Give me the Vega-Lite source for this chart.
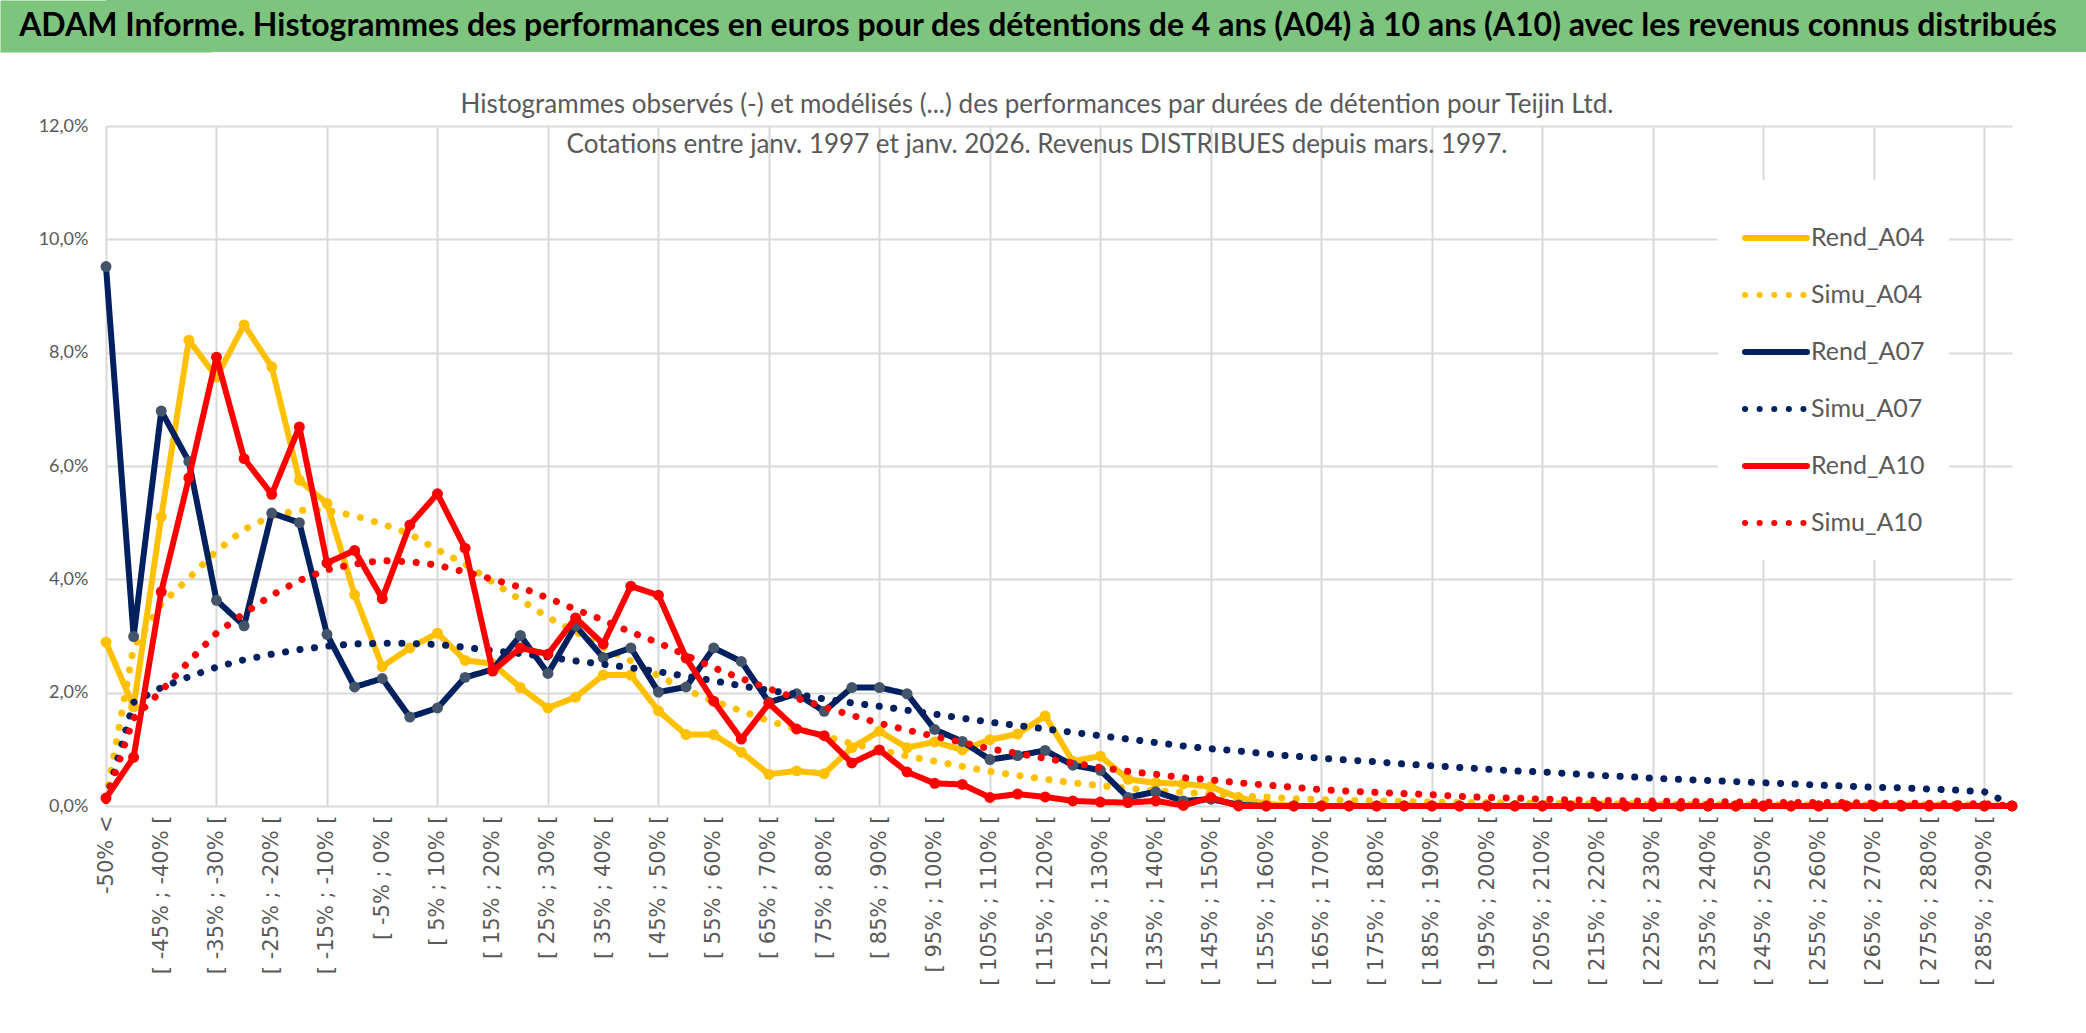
{
  "$schema": "https://vega.github.io/schema/vega-lite/v6.json",
  "padding": 0,
  "background": "white",
  "spacing": 40,
  "resolve": {"scale": {"color": "independent", "strokeDash": "independent"}, "legend": {"color": "independent", "strokeDash": "independent"}},
  "config": {"font": "Lato", "view": {"stroke": null}},
  "vconcat": [
    {
      "width": 1980,
      "height": 52,
      "view": {"fill": "#7DC57E", "stroke": null},
      "data": {"values": [{"t": "ADAM Informe. Histogrammes des performances en euros pour des détentions de 4 ans (A04) à 10 ans (A10) avec les revenus connus distribués"}]},
      "mark": {"type": "text", "font": "Lato", "fontWeight": "bold", "fontSize": 32, "color": "#000000", "align": "center", "baseline": "middle", "dx": -58},
      "encoding": {
        "text": {"field": "t"},
        "x": {"datum": 0.5, "type": "quantitative", "scale": {"domain": [0, 1]}, "axis": null},
        "y": {"datum": 0.5, "type": "quantitative", "scale": {"domain": [0, 1]},
          "axis": {"title": null, "labels": false, "ticks": false, "grid": false, "domain": true, "domainColor": "#7DC57E", "domainWidth": 212, "offset": 0, "minExtent": 106, "maxExtent": 106}}
      }
    },
    {
      "width": 1906,
      "height": 680,
      "data": {"values": [
        {"c": "-50% <", "Rend_A04": 2.89, "Simu_A04": 0.12, "Rend_A07": 9.52, "Simu_A07": 0.10, "Rend_A10": 0.14, "Simu_A10": 0.10},
        {"c": "[ -50% ; -45% [", "Rend_A04": 1.75, "Simu_A04": 2.80, "Rend_A07": 2.99, "Simu_A07": 1.83, "Rend_A10": 0.86, "Simu_A10": 1.55},
        {"c": "[ -45% ; -40% [", "Rend_A04": 5.10, "Simu_A04": 3.56, "Rend_A07": 6.97, "Simu_A07": 2.09, "Rend_A10": 3.78, "Simu_A10": 2.03},
        {"c": "[ -40% ; -35% [", "Rend_A04": 8.22, "Simu_A04": 4.02, "Rend_A07": 6.08, "Simu_A07": 2.28, "Rend_A10": 5.79, "Simu_A10": 2.55},
        {"c": "[ -35% ; -30% [", "Rend_A04": 7.57, "Simu_A04": 4.50, "Rend_A07": 3.63, "Simu_A07": 2.45, "Rend_A10": 7.92, "Simu_A10": 3.05},
        {"c": "[ -30% ; -25% [", "Rend_A04": 8.49, "Simu_A04": 4.88, "Rend_A07": 3.18, "Simu_A07": 2.58, "Rend_A10": 6.13, "Simu_A10": 3.40},
        {"c": "[ -25% ; -20% [", "Rend_A04": 7.75, "Simu_A04": 5.12, "Rend_A07": 5.17, "Simu_A07": 2.68, "Rend_A10": 5.50, "Simu_A10": 3.72},
        {"c": "[ -20% ; -15% [", "Rend_A04": 5.75, "Simu_A04": 5.22, "Rend_A07": 5.00, "Simu_A07": 2.76, "Rend_A10": 6.69, "Simu_A10": 3.98},
        {"c": "[ -15% ; -10% [", "Rend_A04": 5.34, "Simu_A04": 5.22, "Rend_A07": 3.03, "Simu_A07": 2.82, "Rend_A10": 4.29, "Simu_A10": 4.17},
        {"c": "[ -10% ; -5% [", "Rend_A04": 3.73, "Simu_A04": 5.12, "Rend_A07": 2.10, "Simu_A07": 2.86, "Rend_A10": 4.51, "Simu_A10": 4.27},
        {"c": "[ -5% ; 0% [", "Rend_A04": 2.46, "Simu_A04": 4.98, "Rend_A07": 2.25, "Simu_A07": 2.87, "Rend_A10": 3.66, "Simu_A10": 4.33},
        {"c": "[ 0% ; 5% [", "Rend_A04": 2.79, "Simu_A04": 4.80, "Rend_A07": 1.57, "Simu_A07": 2.87, "Rend_A10": 4.96, "Simu_A10": 4.31},
        {"c": "[ 5% ; 10% [", "Rend_A04": 3.05, "Simu_A04": 4.52, "Rend_A07": 1.73, "Simu_A07": 2.85, "Rend_A10": 5.51, "Simu_A10": 4.25},
        {"c": "[ 10% ; 15% [", "Rend_A04": 2.57, "Simu_A04": 4.27, "Rend_A07": 2.27, "Simu_A07": 2.80, "Rend_A10": 4.55, "Simu_A10": 4.13},
        {"c": "[ 15% ; 20% [", "Rend_A04": 2.51, "Simu_A04": 3.95, "Rend_A07": 2.41, "Simu_A07": 2.74, "Rend_A10": 2.38, "Simu_A10": 4.00},
        {"c": "[ 20% ; 25% [", "Rend_A04": 2.09, "Simu_A04": 3.64, "Rend_A07": 3.01, "Simu_A07": 2.69, "Rend_A10": 2.79, "Simu_A10": 3.86},
        {"c": "[ 25% ; 30% [", "Rend_A04": 1.73, "Simu_A04": 3.33, "Rend_A07": 2.34, "Simu_A07": 2.63, "Rend_A10": 2.68, "Simu_A10": 3.67},
        {"c": "[ 30% ; 35% [", "Rend_A04": 1.92, "Simu_A04": 3.07, "Rend_A07": 3.18, "Simu_A07": 2.56, "Rend_A10": 3.32, "Simu_A10": 3.47},
        {"c": "[ 35% ; 40% [", "Rend_A04": 2.31, "Simu_A04": 2.80, "Rend_A07": 2.62, "Simu_A07": 2.50, "Rend_A10": 2.86, "Simu_A10": 3.28},
        {"c": "[ 40% ; 45% [", "Rend_A04": 2.31, "Simu_A04": 2.56, "Rend_A07": 2.79, "Simu_A07": 2.44, "Rend_A10": 3.88, "Simu_A10": 3.07},
        {"c": "[ 45% ; 50% [", "Rend_A04": 1.68, "Simu_A04": 2.30, "Rend_A07": 2.01, "Simu_A07": 2.37, "Rend_A10": 3.72, "Simu_A10": 2.88},
        {"c": "[ 50% ; 55% [", "Rend_A04": 1.26, "Simu_A04": 2.05, "Rend_A07": 2.10, "Simu_A07": 2.29, "Rend_A10": 2.61, "Simu_A10": 2.66},
        {"c": "[ 55% ; 60% [", "Rend_A04": 1.26, "Simu_A04": 1.85, "Rend_A07": 2.79, "Simu_A07": 2.21, "Rend_A10": 1.85, "Simu_A10": 2.44},
        {"c": "[ 60% ; 65% [", "Rend_A04": 0.95, "Simu_A04": 1.68, "Rend_A07": 2.55, "Simu_A07": 2.12, "Rend_A10": 1.18, "Simu_A10": 2.25},
        {"c": "[ 65% ; 70% [", "Rend_A04": 0.56, "Simu_A04": 1.50, "Rend_A07": 1.83, "Simu_A07": 2.04, "Rend_A10": 1.81, "Simu_A10": 2.07},
        {"c": "[ 70% ; 75% [", "Rend_A04": 0.62, "Simu_A04": 1.36, "Rend_A07": 1.98, "Simu_A07": 1.97, "Rend_A10": 1.36, "Simu_A10": 1.90},
        {"c": "[ 75% ; 80% [", "Rend_A04": 0.57, "Simu_A04": 1.24, "Rend_A07": 1.67, "Simu_A07": 1.89, "Rend_A10": 1.24, "Simu_A10": 1.75},
        {"c": "[ 80% ; 85% [", "Rend_A04": 1.03, "Simu_A04": 1.10, "Rend_A07": 2.09, "Simu_A07": 1.82, "Rend_A10": 0.76, "Simu_A10": 1.60},
        {"c": "[ 85% ; 90% [", "Rend_A04": 1.32, "Simu_A04": 0.99, "Rend_A07": 2.09, "Simu_A07": 1.76, "Rend_A10": 0.99, "Simu_A10": 1.46},
        {"c": "[ 90% ; 95% [", "Rend_A04": 1.03, "Simu_A04": 0.88, "Rend_A07": 1.98, "Simu_A07": 1.69, "Rend_A10": 0.60, "Simu_A10": 1.34},
        {"c": "[ 95% ; 100% [", "Rend_A04": 1.13, "Simu_A04": 0.79, "Rend_A07": 1.35, "Simu_A07": 1.62, "Rend_A10": 0.40, "Simu_A10": 1.23},
        {"c": "[ 100% ; 105% [", "Rend_A04": 0.99, "Simu_A04": 0.70, "Rend_A07": 1.14, "Simu_A07": 1.55, "Rend_A10": 0.38, "Simu_A10": 1.12},
        {"c": "[ 105% ; 110% [", "Rend_A04": 1.17, "Simu_A04": 0.61, "Rend_A07": 0.82, "Simu_A07": 1.48, "Rend_A10": 0.15, "Simu_A10": 1.01},
        {"c": "[ 110% ; 115% [", "Rend_A04": 1.27, "Simu_A04": 0.54, "Rend_A07": 0.89, "Simu_A07": 1.42, "Rend_A10": 0.21, "Simu_A10": 0.93},
        {"c": "[ 115% ; 120% [", "Rend_A04": 1.59, "Simu_A04": 0.47, "Rend_A07": 0.98, "Simu_A07": 1.36, "Rend_A10": 0.16, "Simu_A10": 0.84},
        {"c": "[ 120% ; 125% [", "Rend_A04": 0.79, "Simu_A04": 0.41, "Rend_A07": 0.72, "Simu_A07": 1.30, "Rend_A10": 0.09, "Simu_A10": 0.76},
        {"c": "[ 125% ; 130% [", "Rend_A04": 0.88, "Simu_A04": 0.36, "Rend_A07": 0.63, "Simu_A07": 1.24, "Rend_A10": 0.07, "Simu_A10": 0.68},
        {"c": "[ 130% ; 135% [", "Rend_A04": 0.47, "Simu_A04": 0.31, "Rend_A07": 0.15, "Simu_A07": 1.18, "Rend_A10": 0.06, "Simu_A10": 0.61},
        {"c": "[ 135% ; 140% [", "Rend_A04": 0.41, "Simu_A04": 0.27, "Rend_A07": 0.25, "Simu_A07": 1.12, "Rend_A10": 0.09, "Simu_A10": 0.56},
        {"c": "[ 140% ; 145% [", "Rend_A04": 0.39, "Simu_A04": 0.24, "Rend_A07": 0.09, "Simu_A07": 1.06, "Rend_A10": 0.01, "Simu_A10": 0.50},
        {"c": "[ 145% ; 150% [", "Rend_A04": 0.34, "Simu_A04": 0.21, "Rend_A07": 0.12, "Simu_A07": 1.01, "Rend_A10": 0.15, "Simu_A10": 0.46},
        {"c": "[ 150% ; 155% [", "Rend_A04": 0.15, "Simu_A04": 0.18, "Rend_A07": 0.02, "Simu_A07": 0.97, "Rend_A10": 0.00, "Simu_A10": 0.41},
        {"c": "[ 155% ; 160% [", "Rend_A04": 0.04, "Simu_A04": 0.16, "Rend_A07": 0.00, "Simu_A07": 0.92, "Rend_A10": 0.00, "Simu_A10": 0.37},
        {"c": "[ 160% ; 165% [", "Rend_A04": 0, "Simu_A04": 0.13, "Rend_A07": 0, "Simu_A07": 0.88, "Rend_A10": 0, "Simu_A10": 0.33},
        {"c": "[ 165% ; 170% [", "Rend_A04": 0, "Simu_A04": 0.11, "Rend_A07": 0, "Simu_A07": 0.84, "Rend_A10": 0, "Simu_A10": 0.29},
        {"c": "[ 170% ; 175% [", "Rend_A04": 0, "Simu_A04": 0.10, "Rend_A07": 0, "Simu_A07": 0.81, "Rend_A10": 0, "Simu_A10": 0.26},
        {"c": "[ 175% ; 180% [", "Rend_A04": 0, "Simu_A04": 0.09, "Rend_A07": 0, "Simu_A07": 0.78, "Rend_A10": 0, "Simu_A10": 0.24},
        {"c": "[ 180% ; 185% [", "Rend_A04": 0, "Simu_A04": 0.08, "Rend_A07": 0, "Simu_A07": 0.74, "Rend_A10": 0, "Simu_A10": 0.22},
        {"c": "[ 185% ; 190% [", "Rend_A04": 0, "Simu_A04": 0.07, "Rend_A07": 0, "Simu_A07": 0.71, "Rend_A10": 0, "Simu_A10": 0.20},
        {"c": "[ 190% ; 195% [", "Rend_A04": 0, "Simu_A04": 0.06, "Rend_A07": 0, "Simu_A07": 0.68, "Rend_A10": 0, "Simu_A10": 0.17},
        {"c": "[ 195% ; 200% [", "Rend_A04": 0, "Simu_A04": 0.06, "Rend_A07": 0, "Simu_A07": 0.65, "Rend_A10": 0, "Simu_A10": 0.15},
        {"c": "[ 200% ; 205% [", "Rend_A04": 0, "Simu_A04": 0.05, "Rend_A07": 0, "Simu_A07": 0.62, "Rend_A10": 0, "Simu_A10": 0.14},
        {"c": "[ 205% ; 210% [", "Rend_A04": 0, "Simu_A04": 0.05, "Rend_A07": 0, "Simu_A07": 0.60, "Rend_A10": 0, "Simu_A10": 0.12},
        {"c": "[ 210% ; 215% [", "Rend_A04": 0, "Simu_A04": 0.04, "Rend_A07": 0, "Simu_A07": 0.57, "Rend_A10": 0, "Simu_A10": 0.11},
        {"c": "[ 215% ; 220% [", "Rend_A04": 0, "Simu_A04": 0.04, "Rend_A07": 0, "Simu_A07": 0.54, "Rend_A10": 0, "Simu_A10": 0.10},
        {"c": "[ 220% ; 225% [", "Rend_A04": 0, "Simu_A04": 0.04, "Rend_A07": 0, "Simu_A07": 0.52, "Rend_A10": 0, "Simu_A10": 0.09},
        {"c": "[ 225% ; 230% [", "Rend_A04": 0, "Simu_A04": 0.03, "Rend_A07": 0, "Simu_A07": 0.49, "Rend_A10": 0, "Simu_A10": 0.09},
        {"c": "[ 230% ; 235% [", "Rend_A04": 0, "Simu_A04": 0.03, "Rend_A07": 0, "Simu_A07": 0.47, "Rend_A10": 0, "Simu_A10": 0.08},
        {"c": "[ 235% ; 240% [", "Rend_A04": 0, "Simu_A04": 0.03, "Rend_A07": 0, "Simu_A07": 0.45, "Rend_A10": 0, "Simu_A10": 0.08},
        {"c": "[ 240% ; 245% [", "Rend_A04": 0, "Simu_A04": 0.03, "Rend_A07": 0, "Simu_A07": 0.43, "Rend_A10": 0, "Simu_A10": 0.07},
        {"c": "[ 245% ; 250% [", "Rend_A04": 0, "Simu_A04": 0.02, "Rend_A07": 0, "Simu_A07": 0.41, "Rend_A10": 0, "Simu_A10": 0.07},
        {"c": "[ 250% ; 255% [", "Rend_A04": 0, "Simu_A04": 0.02, "Rend_A07": 0, "Simu_A07": 0.39, "Rend_A10": 0, "Simu_A10": 0.06},
        {"c": "[ 255% ; 260% [", "Rend_A04": 0, "Simu_A04": 0.02, "Rend_A07": 0, "Simu_A07": 0.37, "Rend_A10": 0, "Simu_A10": 0.06},
        {"c": "[ 260% ; 265% [", "Rend_A04": 0, "Simu_A04": 0.02, "Rend_A07": 0, "Simu_A07": 0.35, "Rend_A10": 0, "Simu_A10": 0.06},
        {"c": "[ 265% ; 270% [", "Rend_A04": 0, "Simu_A04": 0.02, "Rend_A07": 0, "Simu_A07": 0.33, "Rend_A10": 0, "Simu_A10": 0.05},
        {"c": "[ 270% ; 275% [", "Rend_A04": 0, "Simu_A04": 0.02, "Rend_A07": 0, "Simu_A07": 0.32, "Rend_A10": 0, "Simu_A10": 0.05},
        {"c": "[ 275% ; 280% [", "Rend_A04": 0, "Simu_A04": 0.02, "Rend_A07": 0, "Simu_A07": 0.30, "Rend_A10": 0, "Simu_A10": 0.05},
        {"c": "[ 280% ; 285% [", "Rend_A04": 0, "Simu_A04": 0.02, "Rend_A07": 0, "Simu_A07": 0.28, "Rend_A10": 0, "Simu_A10": 0.04},
        {"c": "[ 285% ; 290% [", "Rend_A04": 0, "Simu_A04": 0.02, "Rend_A07": 0, "Simu_A07": 0.25, "Rend_A10": 0, "Simu_A10": 0.04},
        {"c": "[ 290% ; 295% [", "Rend_A04": 0, "Simu_A04": 0.00, "Rend_A07": 0, "Simu_A07": 0.02, "Rend_A10": 0, "Simu_A10": 0.00}
      ]},
      "transform": [
        {"fold": ["Rend_A04", "Simu_A04", "Rend_A07", "Simu_A07", "Rend_A10", "Simu_A10"], "as": ["series", "value"]}
      ],
      "title": {
        "text": [
          "Histogrammes observés (-) et modélisés (...) des performances par durées de détention pour Teijin Ltd.",
          "Cotations entre janv. 1997 et janv. 2026. Revenus DISTRIBUES depuis mars. 1997."
        ],
        "fontSize": 26, "lineHeight": 40, "fontWeight": "normal", "font": "Lato", "color": "#595959",
        "anchor": "middle", "frame": "group", "offset": -41, "dx": -22
      },
      "encoding": {
        "x": {
          "field": "c", "type": "ordinal", "sort": null,
          "scale": {"type": "point", "padding": 0},
          "axis": {
            "title": null,
            "values": ["-50% <", "[ -45% ; -40% [", "[ -35% ; -30% [", "[ -25% ; -20% [", "[ -15% ; -10% [", "[ -5% ; 0% [", "[ 5% ; 10% [", "[ 15% ; 20% [", "[ 25% ; 30% [", "[ 35% ; 40% [", "[ 45% ; 50% [", "[ 55% ; 60% [", "[ 65% ; 70% [", "[ 75% ; 80% [", "[ 85% ; 90% [", "[ 95% ; 100% [", "[ 105% ; 110% [", "[ 115% ; 120% [", "[ 125% ; 130% [", "[ 135% ; 140% [", "[ 145% ; 150% [", "[ 155% ; 160% [", "[ 165% ; 170% [", "[ 175% ; 180% [", "[ 185% ; 190% [", "[ 195% ; 200% [", "[ 205% ; 210% [", "[ 215% ; 220% [", "[ 225% ; 230% [", "[ 235% ; 240% [", "[ 245% ; 250% [", "[ 255% ; 260% [", "[ 265% ; 270% [", "[ 275% ; 280% [", "[ 285% ; 290% ["],
            "labelAngle": -90, "labelFont": "DejaVu Sans", "labelFontSize": 21, "labelColor": "#595959",
            "labelPadding": 9, "labelOverlap": false, "labelBound": false,
            "domain": false, "ticks": false,
            "grid": true, "gridColor": "#D9D9D9", "gridWidth": 2,
            "gridOpacity": {
              "condition": {"test": "indexof(['-50% <', '[ -35% ; -30% [', '[ -15% ; -10% [', '[ 5% ; 10% [', '[ 25% ; 30% [', '[ 45% ; 50% [', '[ 65% ; 70% [', '[ 85% ; 90% [', '[ 105% ; 110% [', '[ 125% ; 130% [', '[ 145% ; 150% [', '[ 165% ; 170% [', '[ 185% ; 190% [', '[ 205% ; 210% [', '[ 225% ; 230% [', '[ 245% ; 250% [', '[ 265% ; 270% [', '[ 285% ; 290% ['], datum.value) >= 0", "value": 1},
              "value": 0
            }
          }
        },
        "y": {
          "field": "value", "type": "quantitative",
          "scale": {"domain": [0, 12]},
          "axis": {
            "title": null, "values": [0, 2, 4, 6, 8, 10, 12],
            "labelExpr": "replace(format(datum.value, '.1f'), '.', ',') + '%'",
            "labelFont": "Lato", "labelFontSize": 18, "labelColor": "#595959", "labelPadding": 18,
            "domain": false, "ticks": false,
            "grid": true, "gridColor": "#D9D9D9", "gridWidth": 2,
            "minExtent": 106, "maxExtent": 106
          }
        },
        "color": {
          "field": "series", "type": "nominal",
          "scale": {
            "domain": ["Rend_A04", "Simu_A04", "Rend_A07", "Simu_A07", "Rend_A10", "Simu_A10"],
            "range": ["#FFC000", "#FFC000", "#002060", "#002060", "#FF0000", "#FF0000"]
          },
          "legend": {
            "title": null, "orient": "none", "legendX": 1612, "legendY": 54,
            "symbolType": "stroke", "symbolSize": 3844, "symbolStrokeWidth": 6,
            "labelFont": "Lato", "labelFontSize": 25, "labelColor": "#595959", "labelOffset": 1,
            "rowPadding": 10, "fillColor": "white", "padding": 24,
            "encode": {"symbols": {"update": {"strokeCap": {"value": "round"}}}}
          }
        },
        "strokeDash": {
          "field": "series", "type": "nominal",
          "scale": {
            "domain": ["Rend_A04", "Simu_A04", "Rend_A07", "Simu_A07", "Rend_A10", "Simu_A10"],
            "range": [[1, 0], [0.1, 14.5], [1, 0], [0.1, 14.5], [1, 0], [0.1, 14.5]]
          },
          "legend": {
            "title": null, "orient": "none", "legendX": 1612, "legendY": 54,
            "symbolType": "stroke", "symbolSize": 3844, "symbolStrokeWidth": 6,
            "labelFont": "Lato", "labelFontSize": 25, "labelColor": "#595959", "labelOffset": 1,
            "rowPadding": 10, "fillColor": "white", "padding": 24,
            "encode": {"symbols": {"update": {"strokeCap": {"value": "round"}}}}
          }
        }
      },
      "layer": [
        {"transform": [{"filter": "datum.series == 'Rend_A04'"}], "mark": {"type": "line", "strokeWidth": 6, "strokeCap": "round", "strokeJoin": "round"}},
        {"transform": [{"filter": "datum.series == 'Rend_A04'"}], "mark": {"type": "point", "filled": true, "size": 120, "opacity": 1}, "encoding": {"color": {"value": "#FFC000"}, "strokeDash": {"value": [1, 0]}}},
        {"transform": [{"filter": "datum.series == 'Simu_A04'"}], "mark": {"type": "line", "strokeWidth": 7, "strokeCap": "round", "strokeJoin": "round"}},
        {"transform": [{"filter": "datum.series == 'Rend_A07'"}], "mark": {"type": "line", "strokeWidth": 6, "strokeCap": "round", "strokeJoin": "round"}},
        {"transform": [{"filter": "datum.series == 'Rend_A07'"}], "mark": {"type": "point", "filled": true, "size": 120, "opacity": 1}, "encoding": {"color": {"value": "#44546A"}, "strokeDash": {"value": [1, 0]}}},
        {"transform": [{"filter": "datum.series == 'Simu_A07'"}], "mark": {"type": "line", "strokeWidth": 7, "strokeCap": "round", "strokeJoin": "round"}},
        {"transform": [{"filter": "datum.series == 'Rend_A10'"}], "mark": {"type": "line", "strokeWidth": 6, "strokeCap": "round", "strokeJoin": "round"}},
        {"transform": [{"filter": "datum.series == 'Rend_A10'"}], "mark": {"type": "point", "filled": true, "size": 120, "opacity": 1}, "encoding": {"color": {"value": "#FF0000"}, "strokeDash": {"value": [1, 0]}}},
        {"transform": [{"filter": "datum.series == 'Simu_A10'"}], "mark": {"type": "line", "strokeWidth": 7, "strokeCap": "round", "strokeJoin": "round"}}
      ]
    }
  ]
}
